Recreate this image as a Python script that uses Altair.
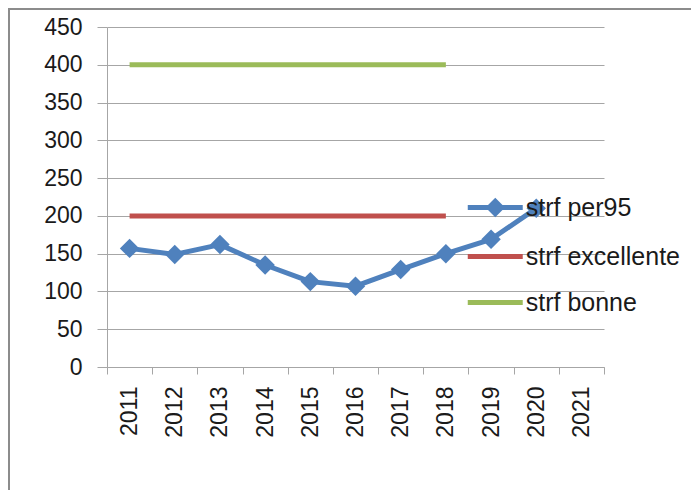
import altair as alt
import pandas as pd

# ---- data ----
years = [2011, 2012, 2013, 2014, 2015, 2016, 2017, 2018, 2019, 2020, 2021]
per95 = [157, 149, 162, 135, 113, 107, 129, 150, 169, 210]
excellente = [200, 200, 200, 200, 200, 200, 200, 200]
bonne = [400, 400, 400, 400, 400, 400, 400, 400]

series_names = ["strf per95", "strf excellente", "strf bonne"]
series_colors = ["#4F81BD", "#C0504D", "#9BBB59"]
legend_shapes = [
    "M-2,0H2M0,-0.45L0.45,0L0,0.45L-0.45,0Z",
    "M-2,0H2",
    "M-2,0H2",
]
y_ticks = [0, 50, 100, 150, 200, 250, 300, 350, 400, 450]
x_band_edges = [2010.5, 2011.5, 2012.5, 2013.5, 2014.5, 2015.5,
                2016.5, 2017.5, 2018.5, 2019.5, 2020.5, 2021.5]

rows = []
for name, vals in zip(series_names, [per95, excellente, bonne]):
    for yr, v in zip(years, vals):
        rows.append({"year": yr, "value": v, "series": name})
df = pd.DataFrame(rows)
legend_df = pd.DataFrame({"series": series_names})

FONT = "Liberation Sans"
GRAY = "#a6a6a6"

x_enc = alt.X(
    "year:Q",
    scale=alt.Scale(domain=[2010.5, 2021.5], nice=False, zero=False),
    axis=alt.Axis(
        values=x_band_edges,
        labelExpr="datum.value > 2021 ? '' : format(datum.value + 0.5, 'd')",
        labelOffset=22.6,
        labelAngle=270,
        labelPadding=12,
        tickSize=7,
        grid=False,
        title=None,
        labelOverlap=False,
        labelFlush=False,
    ),
)
y_enc = alt.Y(
    "value:Q",
    scale=alt.Scale(domain=[0, 450], nice=False),
    axis=alt.Axis(values=y_ticks, grid=True, title=None, tickSize=10,
                  labelPadding=15, labelOverlap=False),
)

leg = alt.Legend(
    title=None, orient="none", legendX=358, legendY=164,
    symbolSize=756, symbolOffset=13.75, labelOffset=14,
    rowPadding=16, padding=0,
    labelFont=FONT, labelFontSize=25, labelColor="#1a1a1a",
    symbolStrokeWidth=5, symbolOpacity=1, labelLimit=400,
)

stroke_scale = alt.Scale(domain=series_names, range=series_colors)
fill_scale = alt.Scale(domain=series_names, range=series_colors)
shape_scale = alt.Scale(domain=series_names, range=legend_shapes)

frame = alt.Chart(pd.DataFrame({"f": [0]})).mark_rect(
    fillOpacity=0, stroke="#8c8c8c", strokeWidth=2
).encode(
    x=alt.value(-98), x2=alt.value(700), y=alt.value(-18), y2=alt.value(600)
)

# invisible layer that only carries the legend (fill + stroke + shape)
legend_layer = alt.Chart(legend_df).mark_point(filled=True).encode(
    fill=alt.Fill("series:N", scale=fill_scale, legend=leg),
    stroke=alt.Stroke("series:N", scale=stroke_scale, legend=leg),
    shape=alt.Shape("series:N", scale=shape_scale, legend=leg),
    opacity=alt.value(0),
)

lines = alt.Chart(df).mark_line(strokeWidth=5, strokeJoin="round").encode(
    x=x_enc,
    y=y_enc,
    stroke=alt.Stroke("series:N", scale=stroke_scale, legend=leg),
)

points = alt.Chart(df).transform_filter(
    alt.datum.series == "strf per95"
).mark_point(shape="diamond", filled=True, size=380, opacity=1,
             color=series_colors[0]).encode(x=x_enc, y=y_enc)

chart = alt.layer(frame, legend_layer, lines, points).properties(
    width=497,
    height=340,
    autosize=alt.AutoSizeParams(type="none"),
    padding={"left": 99, "top": 19, "right": 87, "bottom": 123},
).configure_view(stroke=None).configure_axis(
    labelFont=FONT, labelFontSize=23, labelColor="#1a1a1a",
    domainColor=GRAY, tickColor=GRAY, gridColor=GRAY,
    domainWidth=1, tickWidth=1, gridWidth=1,
)

chart.save("out.html", embed_options={"renderer": "svg", "actions": False})
